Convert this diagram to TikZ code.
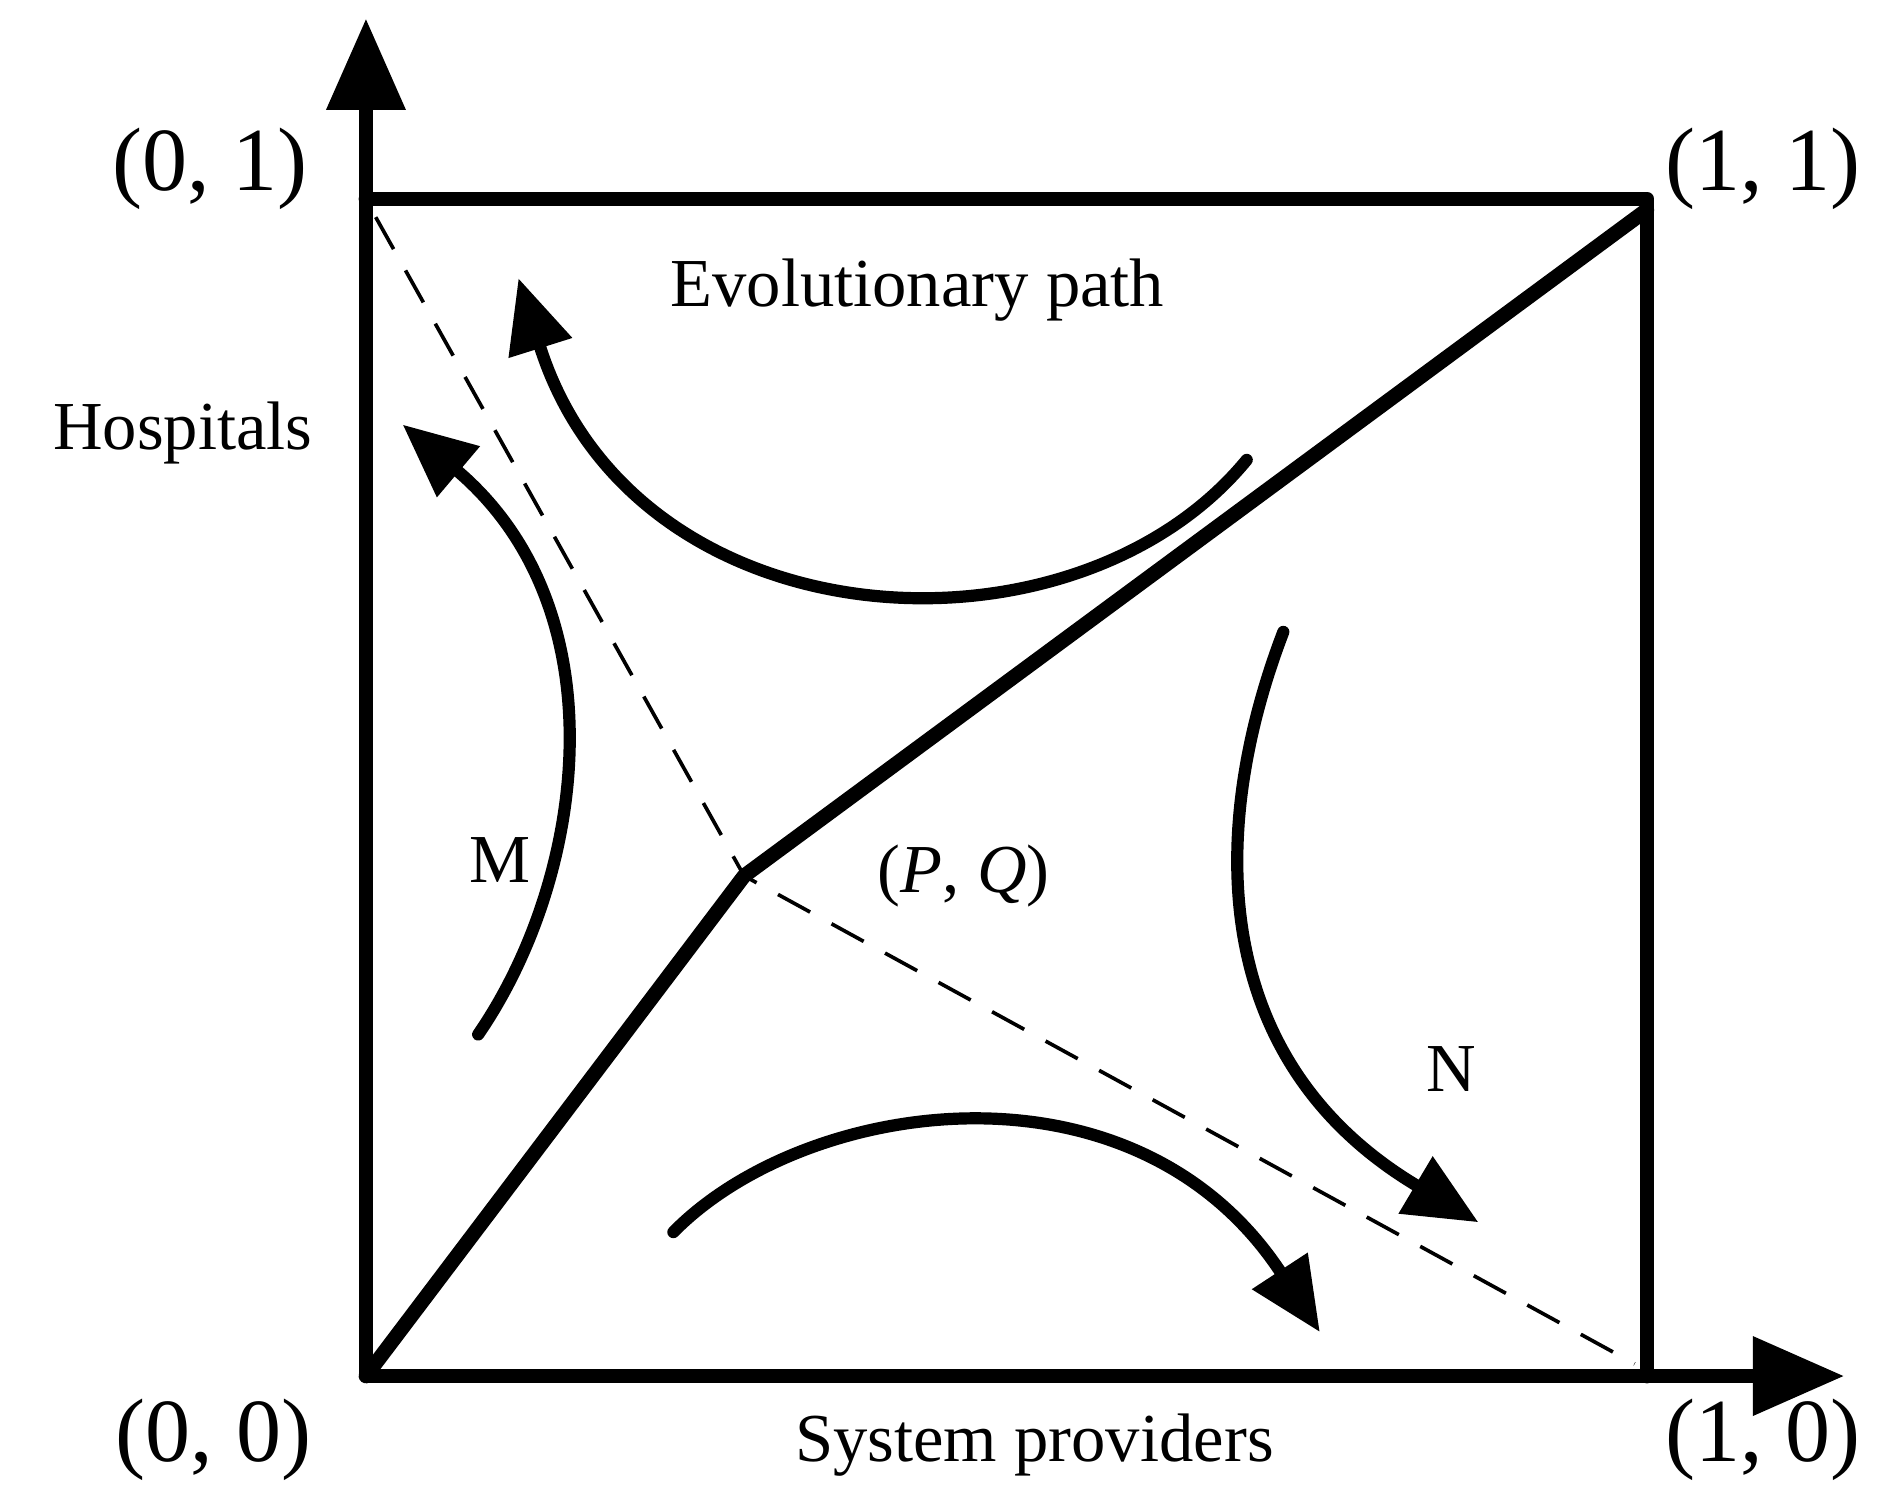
\documentclass[tikz,border=0pt]{standalone}
\usepackage{fontspec}
\setmainfont{Liberation Serif}
\usetikzlibrary{arrows.meta}
\begin{document}
\begin{tikzpicture}[x=0.01cm,y=-0.01cm,
  axis/.style={line width=0.12cm,-{Triangle[length=0.75cm,width=0.62cm]}},
  box/.style={line width=0.12cm,line cap=round,line join=round},
  flow/.style={line width=0.1cm,line cap=round,-{Triangle[length=0.6cm,width=0.52cm]}},
  dashline/.style={line width=0.03cm,dash pattern=on 0.3cm off 0.2cm},
  lbl/.style={font=\fontsize{16pt}{18pt}\selectfont},
  crd/.style={font=\fontsize{21pt}{24pt}\selectfont}]
\useasboundingbox (0,0) rectangle (1560,1235);
\coordinate (O) at (300,1128);
\coordinate (TL) at (300,163);
\coordinate (TR) at (1350,163);
\coordinate (BR) at (1350,1128);
\coordinate (S) at (610,718);
\coordinate (Ytip) at (300,15);
\coordinate (Xtip) at (1512,1128);
\draw[box] (TL) -- (TR) -- (BR);
\draw[axis] (O) -- (Ytip);
\draw[axis] (O) -- (Xtip);
\draw[box] (O) -- (S) -- (1350,172);
\draw[dashline] (308,178) -- (S) -- (1340,1118);
\draw[flow] (1022,377) .. controls (880,550) and (520,530) .. (425,228);
\draw[flow] (392,848) .. controls (480,720) and (510,500) .. (330,348);
\draw[flow] (552,1010) .. controls (660,900) and (930,860) .. (1082,1092);
\draw[flow] (1052,518) .. controls (990,680) and (990,870) .. (1212,1002);
\node[crd] (l01) at (172,138) {(0, 1)};
\node[crd] (l11) at (1445,138) {(1, 1)};
\node[crd] (l00) at (175,1180) {(0, 0)};
\node[crd] (l10) at (1445,1180) {(1, 0)};
\node[lbl] (hos) at (150,355) {Hospitals};
\node[lbl] (evo) at (752,238) {Evolutionary path};
\node[lbl] (sys) at (848,1185) {System providers};
\node[lbl] (m) at (410,705) {M};
\node[lbl] (n) at (1190,876) {N};
\node[lbl] (pq) at (790,718) {(\textit{P}, \textit{Q})};
\end{tikzpicture}
\end{document}
